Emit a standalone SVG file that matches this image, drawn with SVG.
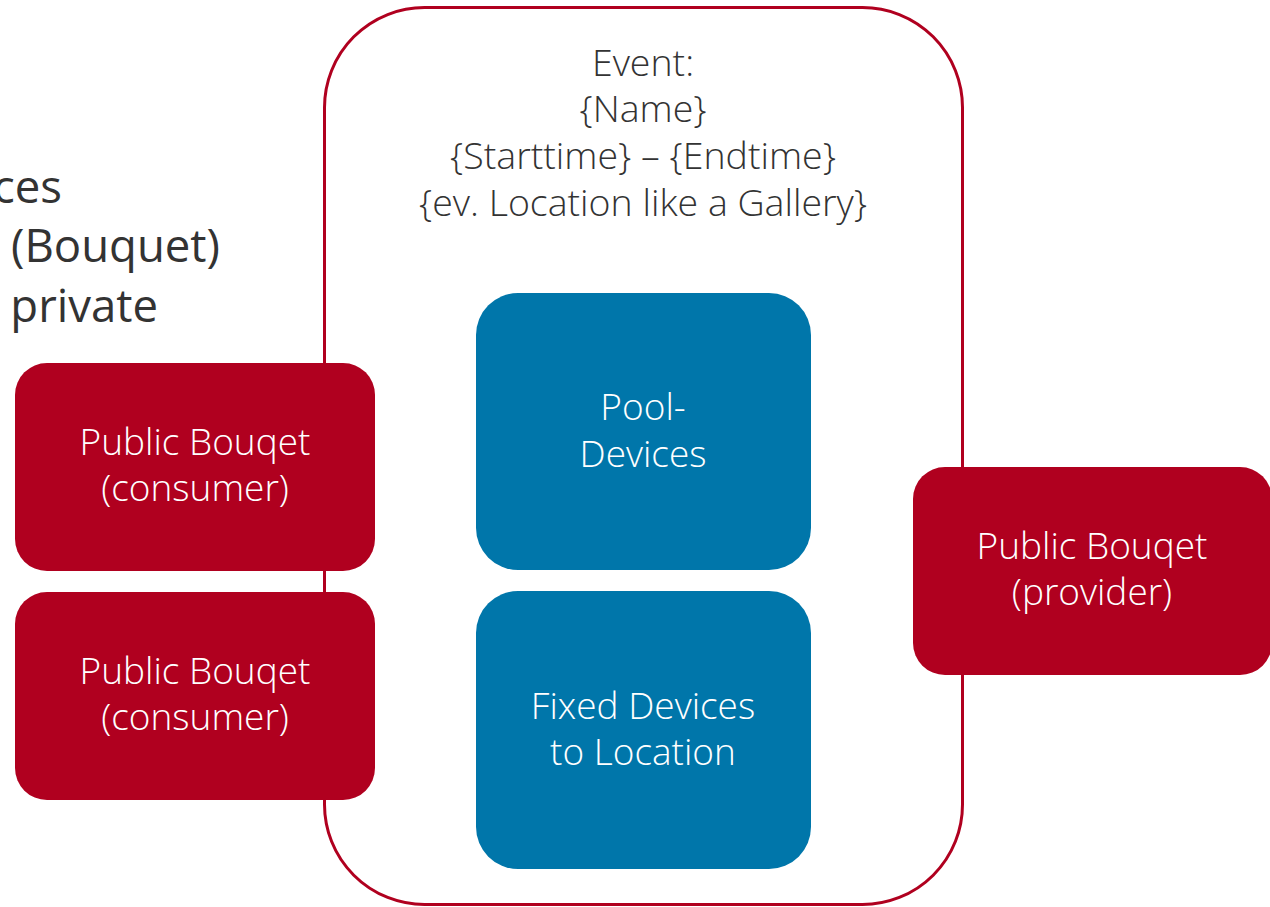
<svg xmlns="http://www.w3.org/2000/svg" width="1270" height="907" viewBox="0 0 1270 907">
<style>
.red{fill:#b0001f}
.blue{fill:#0076aa}
.lbl{font-family:"Open Sans","Liberation Sans",sans-serif;font-weight:300;font-size:37px;fill:#fff;text-anchor:middle}
.hdr{font-family:"Open Sans","Liberation Sans",sans-serif;font-weight:300;font-size:37.5px;fill:#333;text-anchor:middle}
.side{font-family:"Open Sans","Liberation Sans",sans-serif;font-weight:400;font-size:45.5px;fill:#333}
</style>
<rect width="1270" height="907" fill="#fff"/>
<g id="event">
<rect x="324.5" y="7.5" width="638" height="897" rx="100" ry="100" fill="none" stroke="#b0001f" stroke-width="3"/>
<text class="hdr" x="643" y="76">Event:</text>
<text class="hdr" x="643" y="122">{Name}</text>
<text class="hdr" x="643" y="169">{Starttime} – {Endtime}</text>
<text class="hdr" x="643" y="216">{ev. Location like a Gallery}</text>
</g>
<g id="side-text">
<text class="side" x="62" y="203" text-anchor="end">ces</text>
<text class="side" x="220" y="262" text-anchor="end">(Bouquet)</text>
<text class="side" x="158" y="322" text-anchor="end">private</text>
</g>
<g id="consumer1">
<rect class="red" x="15" y="363" width="360" height="208" rx="32"/>
<text class="lbl" x="195" y="455">Public Bouqet</text>
<text class="lbl" x="195" y="501">(consumer)</text>
</g>
<g id="consumer2">
<rect class="red" x="15" y="592" width="360" height="208" rx="32"/>
<text class="lbl" x="195" y="684">Public Bouqet</text>
<text class="lbl" x="195" y="730">(consumer)</text>
</g>
<g id="provider">
<rect class="red" x="913" y="467" width="359" height="208" rx="32"/>
<text class="lbl" x="1092" y="559">Public Bouqet</text>
<text class="lbl" x="1092" y="605">(provider)</text>
</g>
<g id="pool">
<rect class="blue" x="476" y="293" width="335" height="277" rx="42"/>
<text class="lbl" x="643" y="420">Pool-</text>
<text class="lbl" x="643" y="467">Devices</text>
</g>
<g id="fixed">
<rect class="blue" x="476" y="591" width="335" height="278" rx="42"/>
<text class="lbl" x="643" y="719">Fixed Devices</text>
<text class="lbl" x="643" y="765">to Location</text>
</g>
<g id="connectors"></g>
</svg>
